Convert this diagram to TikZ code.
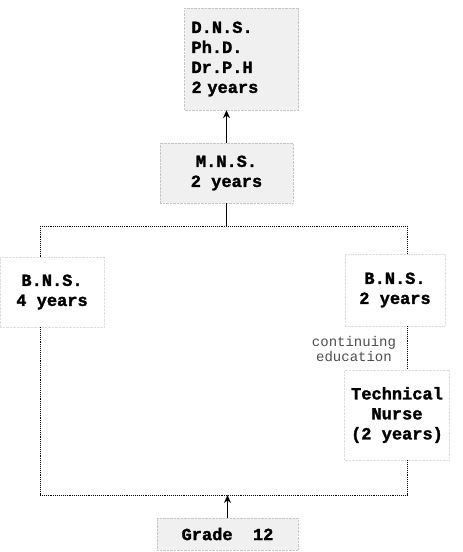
\documentclass[tikz,border=0pt]{standalone}
\usepackage{fontspec}
\setmainfont{Liberation Mono}[BoldFeatures={FakeBold=1.5}]
\usetikzlibrary{arrows.meta}

\begin{document}
\begin{tikzpicture}[x=1pt,y=-1pt,
  shaded/.style={fill=gray!12, draw=gray!45, densely dotted, inner sep=0pt, font=\bfseries\fontsize{17}{20}\selectfont},
  plain/.style={fill=white, draw=gray!25, densely dotted, inner sep=0pt, align=center, font=\bfseries\fontsize{17}{20}\selectfont},
  frame/.style={densely dotted, line width=0.9pt},
  up/.style={-{Stealth[length=8pt,width=7pt]}, line width=1.2pt}]
  \useasboundingbox (0,0) rectangle (463,552);
  \node[shaded, text width=100pt, inner xsep=7pt, minimum height=102pt, align=left] (dns) at (241.5,59) {D.N.S.\\Ph.D.\\Dr.P.H\\2 years};
  \node[shaded, minimum width=133pt, minimum height=60pt, align=center] (mns) at (226.5,173) {M.N.S.\\2 years};
  \node[shaded, minimum width=141pt, minimum height=32pt] (grade) at (227.5,534) {Grade\ \ 12};
  \coordinate (tl) at (40,226);
  \coordinate (tr) at (407,226);
  \coordinate (bl) at (40,495);
  \coordinate (br) at (407,495);
  \node[plain, minimum width=104pt, minimum height=70pt] (bns4) at (52,292) {B.N.S.\\4 years};
  \node[plain, minimum width=100pt, minimum height=72pt] (bns2) at (395,290) {B.N.S.\\2 years};
  \node[text=black!70, align=center, inner sep=1pt, font=\fontsize{14}{12}\selectfont] (cont) at (354,349) {continuing\\education};
  \node[plain, minimum width=105pt, minimum height=90pt] (tech) at (397,415) {Technical\\Nurse\\(2 years)};
  \draw[frame] (tl) -- (tr);
  \draw[frame] (bl) -- (br);
  \draw[frame] (tl) -- (bns4.north -| tl);
  \draw[frame] (bns4.south -| tl) -- (bl);
  \draw[frame] (tr) -- (bns2.north -| tr);
  \draw[frame] (bns2.south -| tr) -- (tech.north -| tr);
  \draw[frame] (tech.south -| tr) -- (br);
  \draw[line width=1.2pt] (mns.south) -- (mns.south |- tl);
  \draw[up] (mns.north) -- (mns.north |- dns.south);
  \draw[up] (grade.north) -- (grade.north |- bl);
\end{tikzpicture}
\end{document}
